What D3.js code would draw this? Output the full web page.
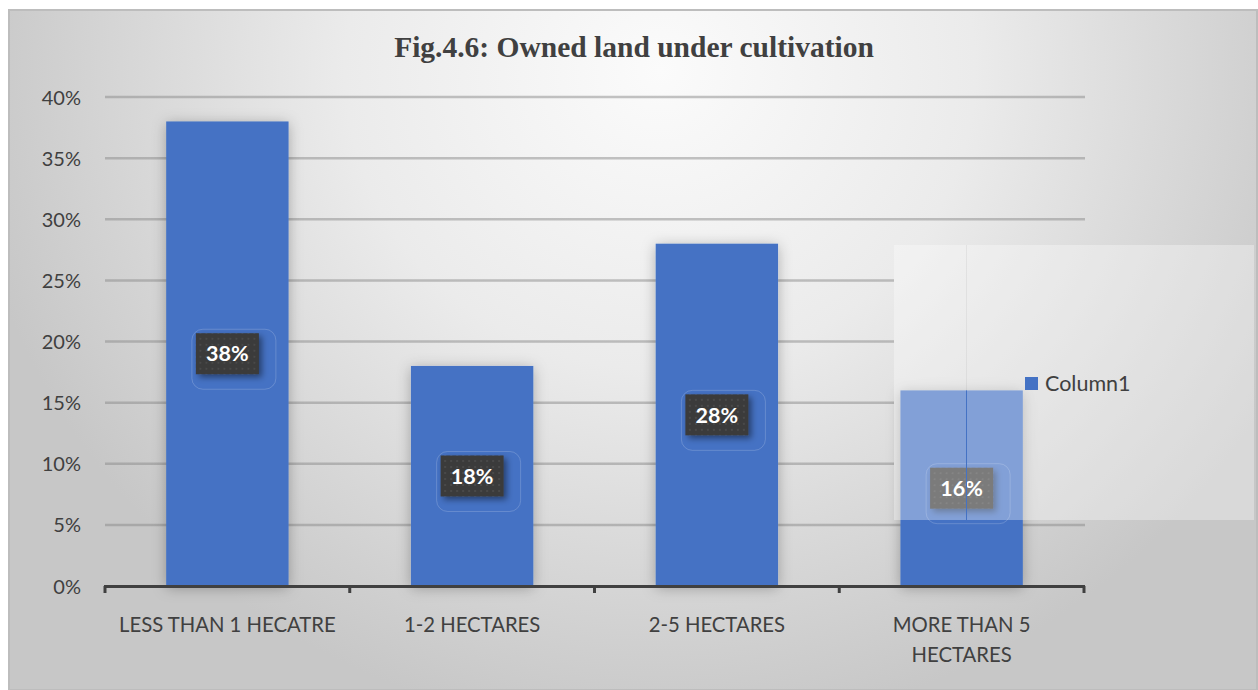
<!DOCTYPE html>
<html>
<head>
<meta charset="utf-8">
<script src="https://cdn.jsdelivr.net/npm/d3@7"></script>
<style>
  html, body { margin: 0; padding: 0; background: #ffffff; }
  svg { display: block; }
  .sans { font-family: Lato, "Open Sans", "Noto Sans", sans-serif; }
</style>
</head>
<body>
<svg id="chart" width="1258" height="690"></svg>
<script>
// Share of respondents by size of owned land under cultivation
const categories = ["LESS THAN 1 HECATRE", "1-2 HECTARES", "2-5 HECTARES", "MORE THAN 5\nHECTARES"];
const values = [0.38, 0.18, 0.28, 0.16];
const yTicks = [0, 0.05, 0.10, 0.15, 0.20, 0.25, 0.30, 0.35, 0.40];
const seriesName = "Column1";
const title = "Fig.4.6: Owned land under cultivation";

const W = 1258, H = 690;
const margin = { left: 105, right: 174, top: 97, bottom: 104 };
const barColor = "#4472c4";
const textColor = "#404040";

const svg = d3.select("#chart");
const defs = svg.append("defs");

// chart background: soft radial sheen
const bg = defs.append("radialGradient")
  .attr("id", "bgGrad")
  .attr("gradientUnits", "userSpaceOnUse")
  .attr("cx", 660).attr("cy", 70).attr("r", 700)
  .attr("gradientTransform", "translate(660,70) scale(1,0.95) translate(-660,-70)");
bg.append("stop").attr("offset", 0).attr("stop-color", "#fbfbfb");
bg.append("stop").attr("offset", 0.45).attr("stop-color", "#ebebeb");
bg.append("stop").attr("offset", 1).attr("stop-color", "#c7c7c7");

// soft shadow for columns and label boxes
const sh = defs.append("filter").attr("id", "barShadow")
  .attr("x", "-40%").attr("y", "-40%").attr("width", "180%").attr("height", "180%");
sh.append("feDropShadow").attr("dx", 0).attr("dy", 2)
  .attr("stdDeviation", 7).attr("flood-color", "#000").attr("flood-opacity", 0.28);

const lsh = defs.append("filter").attr("id", "labelShadow")
  .attr("x", "-40%").attr("y", "-40%").attr("width", "180%").attr("height", "180%");
lsh.append("feDropShadow").attr("dx", 3).attr("dy", 3)
  .attr("stdDeviation", 3).attr("flood-color", "#000").attr("flood-opacity", 0.45);

// dotted texture for label boxes
const pat = defs.append("pattern").attr("id", "dots")
  .attr("patternUnits", "userSpaceOnUse").attr("width", 6).attr("height", 6);
pat.append("rect").attr("width", 6).attr("height", 6).attr("fill", "#3a3a3a");
pat.append("circle").attr("cx", 3).attr("cy", 3).attr("r", 1).attr("fill", "#4c4c4c");

// frame
svg.append("rect")
  .attr("x", 9).attr("y", 10).attr("width", W - 10).attr("height", H - 10)
  .attr("fill", "url(#bgGrad)")
  .attr("stroke", "#bdbdbd").attr("stroke-width", 2);

// title
svg.append("text")
  .attr("x", 634).attr("y", 57)
  .attr("text-anchor", "middle")
  .attr("font-family", "'Liberation Serif', 'Times New Roman', serif")
  .attr("font-weight", "bold")
  .attr("font-size", 29.5)
  .attr("fill", textColor)
  .text(title);

const plotW = W - margin.left - margin.right;
const x = d3.scaleBand().domain(categories).range([margin.left, margin.left + plotW]).paddingInner(0.5).paddingOuter(0.25);
const y = d3.scaleLinear().domain([0, 0.40]).range([H - margin.bottom, margin.top]);

// legend box geometry
const legend = { x: 894, y: 245, w: 360, h: 275 };

// gridlines (hidden behind the legend panel)
svg.append("g").selectAll("line")
  .data(yTicks.filter(d => d > 0))
  .join("line")
  .attr("x1", margin.left)
  .attr("x2", d => (y(d) > legend.y && y(d) < legend.y + legend.h) ? legend.x : margin.left + plotW + 1)
  .attr("y1", d => y(d)).attr("y2", d => y(d))
  .attr("stroke", "#8a8a8a").attr("stroke-opacity", 0.5)
  .attr("stroke-width", 2.5);

// y axis labels
const yAxis = svg.append("g")
  .attr("transform", `translate(${margin.left - 24},0)`)
  .call(d3.axisLeft(y).tickValues(yTicks).tickSize(0).tickPadding(0).tickFormat(d3.format(".0%")));
yAxis.select(".domain").remove();
yAxis.selectAll("text")
  .attr("class", "sans")
  .attr("font-size", 20)
  .attr("fill", textColor)
  .attr("dy", "0.35em");

// columns
svg.append("g").selectAll("rect")
  .data(values)
  .join("rect")
  .attr("x", (d, i) => x(categories[i]))
  .attr("y", d => y(d))
  .attr("width", x.bandwidth())
  .attr("height", d => y(0) - y(d))
  .attr("fill", barColor)
  .attr("filter", "url(#barShadow)");

// x axis line with ticks between categories
const xAxis = svg.append("g")
  .attr("transform", `translate(0,${y(0)})`)
  .call(d3.axisBottom(x).tickSize(0).tickPadding(0).tickFormat(""));
xAxis.select(".domain").remove();
const boundaries = d3.range(categories.length + 1).map(i => margin.left + i * x.step());
svg.append("line")
  .attr("x1", boundaries[0] - 1).attr("x2", boundaries[boundaries.length - 1] + 1)
  .attr("y1", y(0) + 0.5).attr("y2", y(0) + 0.5)
  .attr("stroke", "#404040").attr("stroke-width", 3);
svg.append("g").selectAll("line")
  .data(boundaries)
  .join("line")
  .attr("x1", d => d).attr("x2", d => d)
  .attr("y1", y(0)).attr("y2", y(0) + 7)
  .attr("stroke", "#404040").attr("stroke-width", 3);

// category labels
const catG = svg.append("g");
categories.forEach((c, i) => {
  const t = catG.append("text")
    .attr("class", "sans")
    .attr("x", x(c) + x.bandwidth() / 2)
    .attr("y", 632)
    .attr("text-anchor", "middle")
    .attr("font-size", 20.3)
    .attr("fill", textColor);
  c.split("\n").forEach((line, j) => {
    t.append("tspan").attr("x", x(c) + x.bandwidth() / 2).attr("dy", j === 0 ? 0 : 30).text(line);
  });
});

// data labels
const boxW = 63, boxH = 41;
const lab = svg.append("g").selectAll("g")
  .data(values)
  .join("g")
  .attr("transform", (d, i) => {
    const cx = x(categories[i]) + x.bandwidth() / 2;
    const cy = (y(d) + y(0)) / 2;
    return `translate(${cx},${cy})`;
  });
lab.append("rect")
  .attr("x", -boxW / 2 - 4).attr("y", -boxH / 2 - 4)
  .attr("width", boxW + 21).attr("height", boxH + 19)
  .attr("rx", 11)
  .attr("fill", "none")
  .attr("stroke", "#ffffff").attr("stroke-opacity", 0.18).attr("stroke-width", 1);
lab.append("rect")
  .attr("x", -boxW / 2).attr("y", -boxH / 2)
  .attr("width", boxW).attr("height", boxH)
  .attr("fill", "url(#dots)")
  .attr("filter", "url(#labelShadow)");
lab.append("text")
  .attr("class", "sans")
  .attr("text-anchor", "middle")
  .attr("dy", "0.36em")
  .attr("font-size", 21.5)
  .attr("font-weight", "bold")
  .attr("fill", "#ffffff")
  .text(d => d3.format(".0%")(d));

// legend panel
svg.append("rect")
  .attr("x", legend.x).attr("y", legend.y)
  .attr("width", legend.w).attr("height", legend.h)
  .attr("fill", "#ffffff").attr("fill-opacity", 0.33);
svg.append("line")
  .attr("x1", 966.5).attr("x2", 966.5)
  .attr("y1", legend.y).attr("y2", y(values[3]))
  .attr("stroke", "#000").attr("stroke-opacity", 0.05);
svg.append("line")
  .attr("x1", 966.5).attr("x2", 966.5)
  .attr("y1", y(values[3])).attr("y2", legend.y + legend.h)
  .attr("stroke", barColor).attr("stroke-width", 1);
svg.append("rect")
  .attr("x", 1025).attr("y", 377).attr("width", 13).attr("height", 13)
  .attr("fill", barColor);
svg.append("text")
  .attr("class", "sans")
  .attr("x", 1045).attr("y", 391)
  .attr("font-size", 21.5)
  .attr("fill", textColor)
  .text(seriesName);
</script>
</body>
</html>
